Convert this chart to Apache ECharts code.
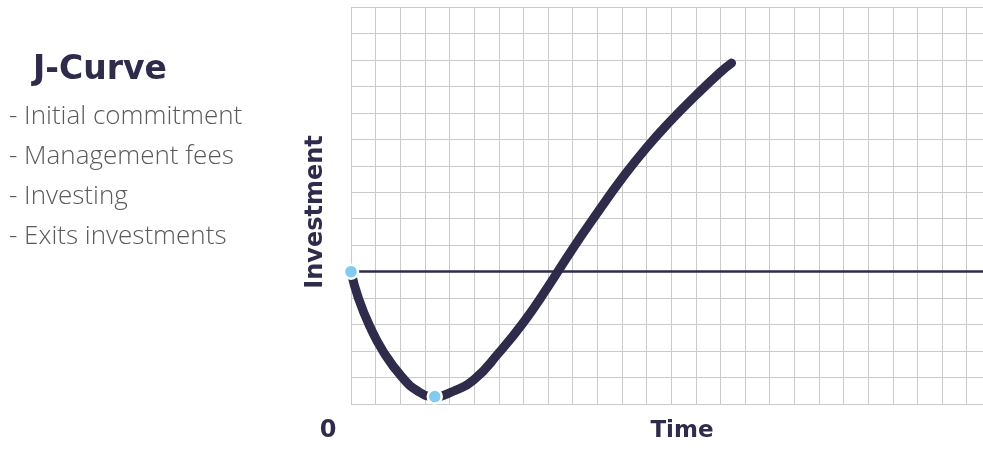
<!DOCTYPE html>
<html>
<head>
<meta charset="utf-8">
<script src="https://cdn.jsdelivr.net/npm/echarts@6/dist/echarts.min.js"></script>
<style>
  html, body { margin: 0; padding: 0; background: #fff; }
  #chart { width: 983px; height: 449px; }
</style>
</head>
<body>
<div id="chart"></div>
<script>
// J-curve: investment value over time, in grid units
const curveTime  = [0, 0.3, 0.77, 1.31, 2.06, 2.74, 3.4, 4, 5, 6, 7, 8, 9, 10, 11, 12, 13, 14, 15, 15.45];
const curveValue = [5, 4.0, 2.92, 1.98, 1.03, 0.47, 0.28, 0.42, 0.93, 1.93, 3.08, 4.43, 5.87, 7.22, 8.52, 9.69, 10.72, 11.66, 12.54, 12.88];

// Highlighted points: commitment start and the trough
const pointTime  = [0, 3.4];
const pointValue = [5, 0.28];

// Break-even level
const baseline = 5;

const titleText = 'J-Curve';
const stages = ['- Initial commitment', '- Management fees', '- Investing', '- Exits investments'];
const xName = 'Time';
const yName = 'Investment';
const originLabel = '0';

const ink = '#2e2b4b';
const headFont = '"DejaVu Sans"';
const bodyFont = '"Open Sans"';

const chart = echarts.init(document.getElementById('chart'), null, { renderer: 'canvas' });

const gridLine = { show: true, lineStyle: { color: '#cacaca', width: 1 } };

chart.setOption({
  animation: false,
  backgroundColor: '#ffffff',
  grid: { left: 351, right: 0, top: 7, bottom: 45 },
  xAxis: {
    type: 'value', min: 0, max: 25.66, interval: 1,
    axisLine: { show: false }, axisTick: { show: false }, axisLabel: { show: false },
    splitLine: gridLine
  },
  yAxis: {
    type: 'value', min: 0, max: 15, interval: 1,
    axisLine: { show: false }, axisTick: { show: false }, axisLabel: { show: false },
    splitLine: gridLine
  },
  graphic: [
    { type: 'text', x: 33, y: 70,
      style: { text: titleText, fill: ink, font: 'bold 33px ' + headFont, verticalAlign: 'middle' } },
    ...stages.map((s, i) => ({
      type: 'text', x: 9, y: 117 + i * 40,
      style: { text: s, fill: '#5a5a5a', font: '300 26px ' + bodyFont, verticalAlign: 'middle' }
    })),
    { type: 'text', x: 316, y: 212, rotation: Math.PI / 2,
      style: { text: yName, fill: ink, font: 'bold 24px ' + headFont, align: 'center', verticalAlign: 'middle' } },
    { type: 'text', x: 328, y: 431,
      style: { text: originLabel, fill: ink, font: 'bold 24px ' + headFont, align: 'center', verticalAlign: 'middle' } },
    { type: 'text', x: 682, y: 431,
      style: { text: xName, fill: ink, font: 'bold 23px ' + headFont, align: 'center', verticalAlign: 'middle' } }
  ],
  series: [
    {
      type: 'line',
      data: curveTime.map((t, i) => [t, curveValue[i]]),
      smooth: 0.5,
      showSymbol: false,
      lineStyle: { color: ink, width: 9, cap: 'round', join: 'round' },
      markLine: {
        silent: true,
        symbol: ['none', 'none'],
        label: { show: false },
        lineStyle: { color: ink, width: 2.5, type: 'solid' },
        data: [{ yAxis: baseline }]
      },
      z: 3
    },
    {
      type: 'scatter',
      data: pointTime.map((t, i) => [t, pointValue[i]]),
      symbolSize: 14,
      itemStyle: { color: '#7fcbf2', borderColor: '#ffffff', borderWidth: 2.5, opacity: 1 },
      z: 5
    }
  ]
});
</script>
</body>
</html>
